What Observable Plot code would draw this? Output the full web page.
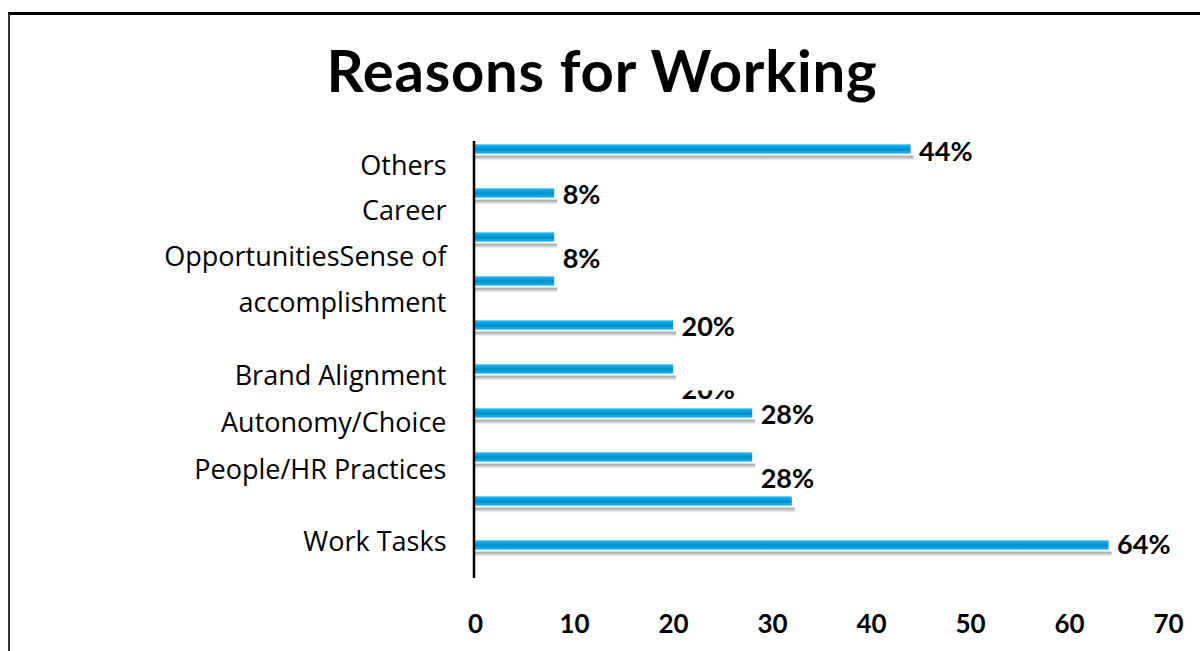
<!DOCTYPE html>
<html>
<head>
<meta charset="utf-8">
<script src="https://cdn.jsdelivr.net/npm/d3@7"></script>
<script src="https://cdn.jsdelivr.net/npm/@observablehq/plot@0.6"></script>
<style>
  html, body { margin: 0; padding: 0; background: #fff; }
  #wrap { position: relative; width: 1200px; height: 651px; overflow: hidden; font-family: Lato, "Open Sans", sans-serif; }
  #frame { position: absolute; left: 8px; top: 12px; right: -10px; bottom: -10px; border-top: 3px solid #000; border-left: 2px solid #333; }
  #title { position: absolute; left: 0; top: 35px; width: 1204px; text-align: center; font: bold 58px/70px Lato, sans-serif; color: #000; letter-spacing: 0.8px; margin: 0; }
  #chart { position: absolute; left: 0; top: 120px; }
</style>
</head>
<body>
<div id="wrap">
  <div id="frame"></div>
  <h1 id="title">Reasons for Working</h1>
  <div id="chart"></div>
</div>
<script>
// Bars, top to bottom (row index = position in this list)
const barValues = [44, 8, 8, 8, 20, 20, 28, 28, 32, 64];

// Category labels as they appear beside the axis, with the row each sits at
const categoryLabels = ["Others", "Career", "OpportunitiesSense of", "accomplishment",
  "Brand Alignment", "Autonomy/Choice", "People/HR Practices", "Work Tasks"];
const categoryRows = [0.39, 1.41, 2.45, 3.5, 5.16, 6.23, 7.3, 8.93];

// Data labels
const valueLabels = ["44%", "8%", "8%", "20%", "20%", "28%", "28%", "64%"];
const valueLabelValues = [44, 8, 8, 20, 20, 28, 28, 64];
const valueLabelRows = [0.07, 1.05, 2.5, 4.05, 5.48, 6.05, 7.5, 9.0];

// Axis ticks
const xTicks = [0, 10, 20, 30, 40, 50, 60, 70];

const bars = barValues.map((v, i) => ({row: i, value: v}));
const cats = categoryLabels.map((t, i) => ({label: t, row: categoryRows[i]}));
const vals = valueLabels.map((t, i) => ({label: t, value: valueLabelValues[i], row: valueLabelRows[i], clipped: i === 4}));

const chart = Plot.plot({
  width: 1200,
  height: 531,
  marginLeft: 475,
  marginRight: 32,
  marginTop: 21,
  marginBottom: 73,
  style: {fontFamily: "Lato, sans-serif", color: "#000", background: "transparent"},
  x: {domain: [0, 70], axis: null},
  y: {domain: [0, 9], reverse: true, insetTop: 8, insetBottom: 33, axis: null},
  marks: [
    // shadow under each bar
    Plot.rectX(bars, {x1: 0, x2: d => d.value + 0.3, y1: d => d.row + 0.11, y2: d => d.row + 0.27, fill: "url(#shadowGrad)"}),
    // bars
    Plot.rectX(bars, {x1: 0, x2: "value", y1: d => d.row - 0.105, y2: d => d.row + 0.105, fill: "url(#barGrad)"}),
    // vertical axis line
    Plot.ruleX([0], {stroke: "#000", strokeWidth: 2.5, dx: -1.5}),
    // category labels
    Plot.text(cats, {y: "row", text: "label", frameAnchor: "left", textAnchor: "end", dx: -29, fontSize: 27, fontFamily: "'Open Sans', sans-serif", fill: "#000"}),
    // value labels
    Plot.text(vals, {x: "value", y: "row", text: "label", textAnchor: "start", dx: 8, fontSize: 27, fontWeight: "bold", fill: "#000"}),
    // x axis tick labels
    Plot.axisX({ticks: xTicks, tickSize: 0, tickPadding: 36, fontSize: 26, fontWeight: "bold", label: null, tickFormat: d => String(d)})
  ]
});

const svg = d3.select(chart);
svg.insert("defs", ":first-child").html(`
  <linearGradient id="barGrad" x1="0" y1="0" x2="0" y2="1">
    <stop offset="0" stop-color="#22b6f0"/>
    <stop offset="0.35" stop-color="#08a0de"/>
    <stop offset="0.55" stop-color="#078cc4"/>
    <stop offset="0.75" stop-color="#08a8e6"/>
    <stop offset="1" stop-color="#18b2ef"/>
  </linearGradient>
  <linearGradient id="shadowGrad" x1="0" y1="0" x2="0" y2="1">
    <stop offset="0" stop-color="#ffffff"/>
    <stop offset="0.18" stop-color="#ffffff"/>
    <stop offset="0.32" stop-color="#a8a8a8"/>
    <stop offset="0.6" stop-color="#cccccc"/>
    <stop offset="1" stop-color="#ffffff"/>
  </linearGradient>
`);

// The second "20%" label is cut off just below its top in the reference: clip it
const yScale = chart.scale("y");
const clipped = vals.find(d => d.clipped);
const cutY = yScale.apply(clipped.row) - 4;
svg.select("defs").append("clipPath").attr("id", "halfClip")
  .attr("clipPathUnits", "userSpaceOnUse")
  .append("rect").attr("x", 0).attr("y", 0).attr("width", 1200).attr("height", cutY);
svg.selectAll("text").filter(function () { return this.textContent === clipped.label; })
  .filter((d, i, nodes) => i === nodes.length - 1)
  .attr("clip-path", "url(#halfClip)");

document.getElementById("chart").appendChild(chart);
</script>
</body>
</html>
